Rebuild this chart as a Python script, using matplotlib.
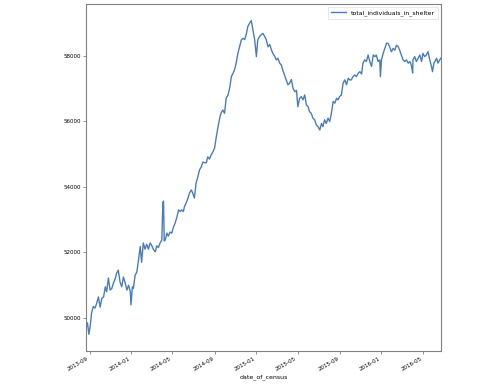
import matplotlib
matplotlib.use("Agg")
import matplotlib.pyplot as plt
import matplotlib.dates as mdates
import pandas as pd

start_date = "2013-08-22"
day_offsets = [0, 4, 8, 12, 16, 21, 26, 31, 36, 41, 46, 51, 56, 60, 65, 70, 75, 80, 85, 89,
               94, 99, 104, 109, 114, 119, 124, 129, 131, 135, 138, 143, 148, 153, 158, 162,
               167, 172, 177, 182, 187, 192, 197, 202, 206, 211, 216, 221, 224, 226, 228, 231,
               236, 240, 245, 250, 255, 260, 265, 270, 275, 279, 284, 287, 292, 297, 302, 307,
               311, 316, 321, 326, 331, 336, 341, 346, 351, 355, 360, 365, 370, 375, 380, 385,
               390, 394, 399, 404, 409, 414, 419, 424, 428, 433, 438, 443, 448, 453, 458, 463,
               468, 472, 477, 482, 487, 492, 497, 501, 506, 511, 516, 521, 526, 531, 536, 541,
               545, 550, 555, 560, 565, 570, 574, 579, 584, 589, 594, 599, 604, 609, 614, 618,
               623, 628, 633, 638, 643, 648, 652, 657, 662, 667, 672, 677, 682, 687, 691, 696,
               701, 706, 711, 716, 721, 726, 731, 735, 740, 745, 750, 755, 760, 765, 769, 774,
               779, 784, 789, 794, 799, 804, 808, 813, 818, 823, 828, 833, 838, 843, 847, 852,
               857, 859, 862, 867, 872, 877, 881, 886, 891, 896, 901, 906, 911, 915, 920, 925,
               930, 935, 940, 945, 950, 953, 954, 959, 964, 969, 974, 979, 983, 988, 993, 998,
               1003, 1008, 1011, 1015, 1018, 1023, 1027, 1032, 1036]
total_individuals_in_shelter = [
    49700, 49850, 49500, 49750, 50150, 50350, 50300, 50450, 50640, 50330, 50600, 50640, 50950, 50800,
    51220, 50850, 50900, 51070, 51200, 51370, 51460, 51100, 50950, 51250, 51070, 50850, 51000, 50800,
    50400, 50950, 50900, 51300, 51400, 51770, 52180, 51700, 52290, 52100, 52250, 52100, 52290, 52200,
    52080, 52020, 52200, 52150, 52290, 52380, 53510, 53570, 52350, 52380, 52590, 52500, 52620, 52590,
    52780, 52900, 53080, 53300, 53250, 53300, 53250, 53400, 53510, 53650, 53820, 53910, 53820, 53660,
    54120, 54300, 54520, 54610, 54760, 54740, 54740, 54920, 54850, 54980, 55070, 55190, 55530, 55830,
    56110, 56260, 56350, 56250, 56720, 56800, 57020, 57370, 57450, 57570, 57780, 58080, 58280, 58490,
    58540, 58500, 58690, 58900, 59000, 59080, 58790, 58490, 57980, 58490, 58590, 58650, 58690, 58600,
    58490, 58280, 58350, 58180, 58080, 58000, 57880, 57930, 57780, 57720, 57570, 57420, 57270, 57120,
    57170, 57280, 57010, 56910, 56950, 56450, 56700, 56760, 56660, 56810, 56500, 56450, 56300, 56250,
    56100, 56050, 55890, 55840, 55740, 55940, 55840, 56050, 55940, 56100, 56000, 56250, 56610, 56560,
    56710, 56660, 56760, 56810, 57170, 57270, 57120, 57320, 57270, 57270, 57370, 57420, 57370, 57470,
    57520, 57450, 57780, 57880, 57830, 58030, 57830, 57680, 58030, 57980, 58030, 57830, 57880, 57370,
    57880, 58080, 58240, 58390, 58390, 58280, 58130, 58230, 58180, 58330, 58280, 58180, 58030, 57880,
    57830, 57880, 57780, 57830, 57680, 57480, 57880, 57980, 57830, 57930, 58030, 57830, 58080, 57980,
    58030, 58130, 57880, 57680, 57520, 57780, 57830, 57930, 57780, 57880, 57940]
series_label = "total_individuals_in_shelter"
x_label = "date_of_census"

dates = pd.Timestamp(start_date) + pd.to_timedelta(day_offsets, unit="D")

fig = plt.figure(figsize=(4.81, 3.90), dpi=100)
ax = fig.add_axes([0.179, 0.1, 0.738, 0.89])
ax.plot(dates, total_individuals_in_shelter, color="#4a7cbb", lw=1.0, label=series_label)

ax.xaxis.set_major_locator(mdates.MonthLocator(bymonth=[1, 5, 9]))
ax.xaxis.set_major_formatter(mdates.DateFormatter("%Y-%m"))
ax.set_xlim(dates[0], dates[-1])
ax.set_yticks([50000, 52000, 54000, 56000, 58000])
ax.set_ylim(48990, 59590)

for lab in ax.get_xticklabels():
    lab.set_rotation(30)
    lab.set_ha("right")
ax.tick_params(axis="both", labelsize=4.0, length=2, width=0.5, color="#666666", pad=1.5)
ax.set_xlabel(x_label, fontsize=4.5, labelpad=2)
for s in ax.spines.values():
    s.set_color("#808080")
    s.set_linewidth(0.8)

leg = ax.legend(loc="upper right", fontsize=4.4, frameon=True, handlelength=2.5,
                borderpad=0.5, fancybox=False)
leg.get_frame().set_linewidth(0.4)
leg.get_frame().set_edgecolor("#cccccc")

fig.savefig("out.png", dpi=100)
